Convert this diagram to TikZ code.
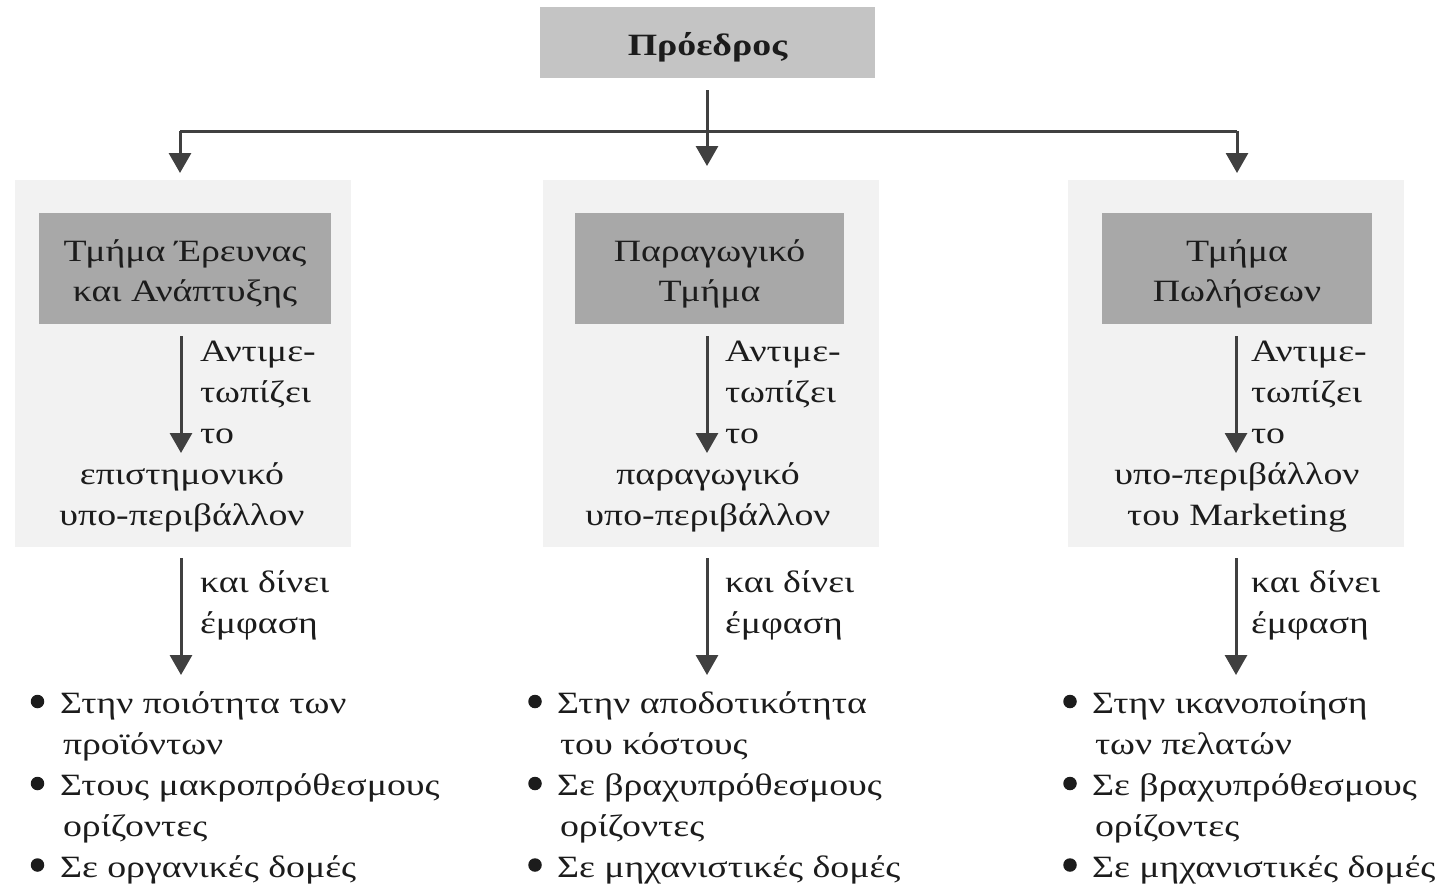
\documentclass[tikz,border=0pt]{standalone}
\usepackage{fontspec}
\setmainfont{Liberation Serif}[FakeStretch=1.22]
\usetikzlibrary{arrows.meta}
\definecolor{panelc}{RGB}{242,242,242}
\definecolor{deptc}{RGB}{168,168,168}
\definecolor{presc}{RGB}{196,196,196}
\definecolor{arrc}{RGB}{64,64,64}
\definecolor{txtc}{RGB}{28,28,28}
\begin{document}
\begin{tikzpicture}[x=1pt,y=-1pt,
  every node/.style={inner sep=0pt, outer sep=0pt},
  txt/.style={font=\fontsize{31}{41}\selectfont, text=txtc, anchor=base west},
  ctxt/.style={font=\fontsize{31}{41}\selectfont, text=txtc, anchor=base},
  bul/.style={circle, fill=txtc, minimum size=13.5pt},
  presbox/.style={fill=presc, minimum width=335pt, minimum height=71pt},
  panel/.style={fill=panelc, minimum width=336pt, minimum height=367pt},
  dept/.style={fill=deptc, minimum height=111pt},
  conn/.style={draw=arrc, line width=3pt},
  arr/.style={conn, -{Triangle[width=22pt,length=20pt]}}
]
\useasboundingbox (0,0) rectangle (1455,887);

% president
\node[presbox] (pres) at (707.5,42.5) {};
\node[ctxt, font=\fontsize{31}{41}\selectfont\bfseries] (prestxt) at (707.5,55) {Πρόεδρος};

% panels
\node[panel] (p1) at (183,363) {};
\node[panel] (p2) at (710.5,363) {};
\node[panel] (p3) at (1236,363) {};

% department boxes
\node[dept, minimum width=292pt] (d1) at (185,268.5) {};
\node[dept, minimum width=269pt] (d2) at (709.5,268.5) {};
\node[dept, minimum width=270pt] (d3) at (1237,268.5) {};

\node[ctxt] (d1a) at (185,261) {Τμήμα Έρευνας};
\node[ctxt] (d1b) at (185,301) {και Ανάπτυξης};
\node[ctxt] (d2a) at (709.5,261) {Παραγωγικό};
\node[ctxt] (d2b) at (709.5,301) {Τμήμα};
\node[ctxt] (d3a) at (1237,261) {Τμήμα};
\node[ctxt] (d3b) at (1237,301) {Πωλήσεων};

% top connectors
\coordinate (ps) at (707,90);
\coordinate (hl) at (180,131);
\coordinate (hr) at (1237,131);
\coordinate (t1) at (180,173);
\coordinate (t2) at (707,166);
\coordinate (t3) at (1237,173);
\draw[conn] (hl) -- (hr);
\draw[arr] (ps) -- (t2);
\draw[arr] (hl) -- (t1);
\draw[arr] (hr) -- (t3);

% inner arrows
\foreach \n/\x in {1/181,2/707,3/1236}{
  \coordinate (ia\n) at (\x,336);
  \coordinate (ib\n) at (\x,453);
  \coordinate (la\n) at (\x,558);
  \coordinate (lb\n) at (\x,675);
  \draw[arr] (ia\n) -- (ib\n);
  \draw[arr] (la\n) -- (lb\n);
}

% side labels
\node[txt] (a1) at (200,361) {Αντιμε-};
\node[txt] (b1) at (200,402) {τωπίζει};
\node[txt] (c1) at (200,443) {το};
\node[txt] (a2) at (725,361) {Αντιμε-};
\node[txt] (b2) at (725,402) {τωπίζει};
\node[txt] (c2) at (725,443) {το};
\node[txt] (a3) at (1251,361) {Αντιμε-};
\node[txt] (b3) at (1251,402) {τωπίζει};
\node[txt] (c3) at (1251,443) {το};

% environment texts
\node[ctxt] (e1a) at (182,484) {επιστημονικό};
\node[ctxt] (e1b) at (182,525) {υπο-περιβάλλον};
\node[ctxt] (e2a) at (708,484) {παραγωγικό};
\node[ctxt] (e2b) at (708,525) {υπο-περιβάλλον};
\node[ctxt] (e3a) at (1237,484) {υπο-περιβάλλον};
\node[ctxt] (e3b) at (1237,525) {του Marketing};

% emphasis labels
\node[txt] (k1) at (200,592) {και δίνει};
\node[txt] (m1) at (200,633) {έμφαση};
\node[txt] (k2) at (725,592) {και δίνει};
\node[txt] (m2) at (725,633) {έμφαση};
\node[txt] (k3) at (1251,592) {και δίνει};
\node[txt] (m3) at (1251,633) {έμφαση};

% bullet lists
\node[bul] (u1a) at (37.5,701.5) {};
\node[txt] (v1a) at (60,713) {Στην ποιότητα των};
\node[txt] (v1b) at (63,754) {προϊόντων};
\node[bul] (u1c) at (37.5,783.5) {};
\node[txt] (v1c) at (60,795) {Στους μακροπρόθεσμους};
\node[txt] (v1d) at (63,836) {ορίζοντες};
\node[bul] (u1e) at (37.5,865) {};
\node[txt] (v1e) at (60,877) {Σε οργανικές δομές};

\node[bul] (u2a) at (535,701.5) {};
\node[txt] (v2a) at (557,713) {Στην αποδοτικότητα};
\node[txt] (v2b) at (560,754) {του κόστους};
\node[bul] (u2c) at (535,783.5) {};
\node[txt] (v2c) at (557,795) {Σε βραχυπρόθεσμους};
\node[txt] (v2d) at (560,836) {ορίζοντες};
\node[bul] (u2e) at (535,865) {};
\node[txt] (v2e) at (557,877) {Σε μηχανιστικές δομές};

\node[bul] (u3a) at (1070,701.5) {};
\node[txt] (v3a) at (1092,713) {Στην ικανοποίηση};
\node[txt] (v3b) at (1095,754) {των πελατών};
\node[bul] (u3c) at (1070,783.5) {};
\node[txt] (v3c) at (1092,795) {Σε βραχυπρόθεσμους};
\node[txt] (v3d) at (1095,836) {ορίζοντες};
\node[bul] (u3e) at (1070,865) {};
\node[txt] (v3e) at (1092,877) {Σε μηχανιστικές δομές};
\end{tikzpicture}
\end{document}
